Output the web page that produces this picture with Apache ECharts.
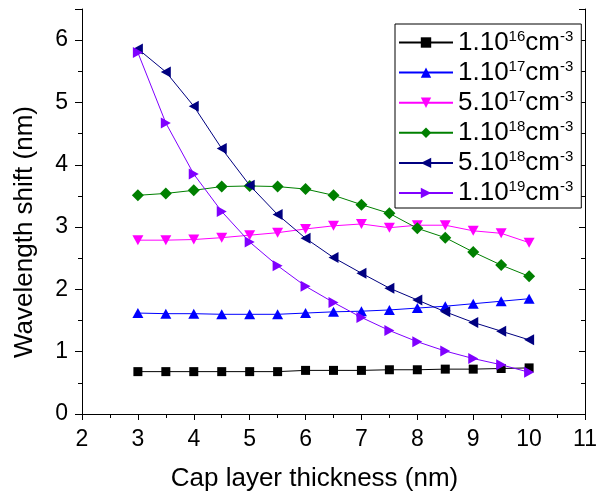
<!DOCTYPE html>
<html>
<head>
<meta charset="utf-8">
<script src="https://cdn.jsdelivr.net/npm/echarts@6/dist/echarts.min.js"></script>
<style>html,body{margin:0;padding:0;background:#fff;}#c{width:602px;height:497px;}</style>
</head>
<body>
<div id="c"></div>
<script>
const thickness = [3,3.5,4,4.5,5,5.5,6,6.5,7,7.5,8,8.5,9,9.5,10];
const s1e16 = [0.68,0.68,0.68,0.68,0.68,0.68,0.70,0.70,0.70,0.71,0.71,0.72,0.72,0.73,0.74];
const s1e17 = [1.62,1.61,1.61,1.60,1.60,1.60,1.62,1.64,1.65,1.67,1.70,1.73,1.77,1.81,1.85];
const s5e17 = [2.79,2.79,2.80,2.83,2.87,2.91,2.97,3.02,3.05,2.99,3.03,3.03,2.94,2.90,2.75];
const s1e18 = [3.51,3.54,3.59,3.65,3.66,3.65,3.61,3.51,3.36,3.22,2.98,2.83,2.60,2.39,2.21];
const s5e18 = [5.86,5.49,4.94,4.26,3.67,3.20,2.82,2.51,2.26,2.02,1.83,1.64,1.47,1.33,1.19];
const s1e19 = [5.80,4.67,3.85,3.25,2.76,2.38,2.05,1.79,1.55,1.34,1.16,1.01,0.89,0.79,0.67];
const mantissas = ['1.10','1.10','5.10','1.10','5.10','1.10'];
const exponents = ['16','17','17','18','18','19'];
const unitText = 'cm';
const unitExp = '-3';
const xTicks = [2,3,4,5,6,7,8,9,10,11];
const yTicks = [0,1,2,3,4,5,6];

const seriesData = [s1e16, s1e17, s5e17, s1e18, s5e18, s1e19];
const colors = ['#000000','#0000ff','#ff00ff','#008000','#000080','#8000ff'];
const symbols = ['rect','triangle','triangle','diamond','triangle','triangle'];
const rotates = [0,0,180,0,90,-90];
const sizes = [9,[11,10],[11,10],12,[11,10],[11,10]];
const names = mantissas.map((m,i)=> m + '^' + exponents[i] + unitText + '^' + unitExp);

const FONT = 'Liberation Sans, Arial, sans-serif';
const chart = echarts.init(document.getElementById('c'), null, {renderer:'canvas'});

const series = seriesData.map((d,i)=>({
  name: names[i],
  type: 'line',
  data: d.map((v,j)=>[thickness[j], v]),
  symbol: symbols[i],
  symbolRotate: rotates[i],
  symbolSize: sizes[i],
  showAllSymbol: true,
  lineStyle: {color: colors[i], width: 1},
  itemStyle: {color: colors[i]},
  emphasis: {disabled: true},
  animation: false,
  z: 2 + i
}));

const axisCommon = {
  axisLine: {show: true, lineStyle: {color:'#000', width:1}},
  splitLine: {show:false},
};

chart.setOption({
  animation: false,
  backgroundColor: '#fff',
  grid: {left: 82, right: 17, top: 9, bottom: 83},
  xAxis: [{
    type: 'value', min: 2, max: 11, interval: 1, position: 'bottom',
    ...axisCommon,
    axisTick: {show:true, inside:false, length:6, lineStyle:{color:'#000'}},
    minorTick: {show:true, splitNumber:2, length:3, lineStyle:{color:'#000'}},
    axisLabel: {fontSize: 23, color:'#000', fontFamily: FONT, margin: 14,
      formatter: v => xTicks.includes(v) ? String(v) : ''},
    name: 'Cap layer thickness (nm)', nameLocation: 'middle', nameGap: 52,
    nameTextStyle: {fontSize: 26, color:'#000', fontFamily: FONT, padding: [0,38,0,0]}
  },{
    type: 'value', min: 2, max: 11, interval: 1, position: 'top',
    ...axisCommon,
    axisTick: {show:true, inside:true, length:6, lineStyle:{color:'#000'}},
    minorTick: {show:true, splitNumber:2, length:4, lineStyle:{color:'#000'}},
    axisLabel: {show:false}
  }],
  yAxis: [{
    type: 'value', min: 0, max: 6.5, interval: 1, position: 'left',
    ...axisCommon,
    axisTick: {show:true, inside:false, length:7, lineStyle:{color:'#000'}},
    minorTick: {show:true, splitNumber:2, length:4, lineStyle:{color:'#000'}},
    axisLabel: {fontSize: 23, color:'#000', fontFamily: FONT, margin: 14,
      formatter: v => yTicks.includes(v) ? String(v) : ''},
    name: 'Wavelength shift (nm)', nameLocation: 'middle', nameGap: 44, nameRotate: 90,
    nameTextStyle: {fontSize: 26, color:'#000', fontFamily: FONT, padding: [0,41,0,0]}
  },{
    type: 'value', min: 0, max: 6.5, interval: 1, position: 'right',
    ...axisCommon,
    axisTick: {show:true, inside:true, length:6, lineStyle:{color:'#000'}},
    minorTick: {show:true, splitNumber:2, length:4, lineStyle:{color:'#000'}},
    axisLabel: {show:false}
  }],
  legend: {
    orient: 'vertical', left: 395, top: 24,
    padding: [5, 8, 2, 3],
    itemWidth: 54, itemHeight: 13, itemGap: 3.6,
    borderColor: '#000', borderWidth: 1,
    backgroundColor: '#fff',
    data: names,
    selectedMode: false,
    formatter: function(name){
      const i = names.indexOf(name);
      return '{a|' + mantissas[i] + '}{s|' + exponents[i] + '}{a|' + unitText + '}{s|' + unitExp + '}';
    },
    textStyle: {
      color: '#000', fontFamily: FONT,
      rich: {
        a: {fontSize: 26, lineHeight: 27, fontFamily: FONT, color:'#000'},
        s: {fontSize: 15, lineHeight: 17, verticalAlign: 'top', fontFamily: FONT, color:'#000'}
      }
    }
  },
  series: series
});
</script>
</body>
</html>
